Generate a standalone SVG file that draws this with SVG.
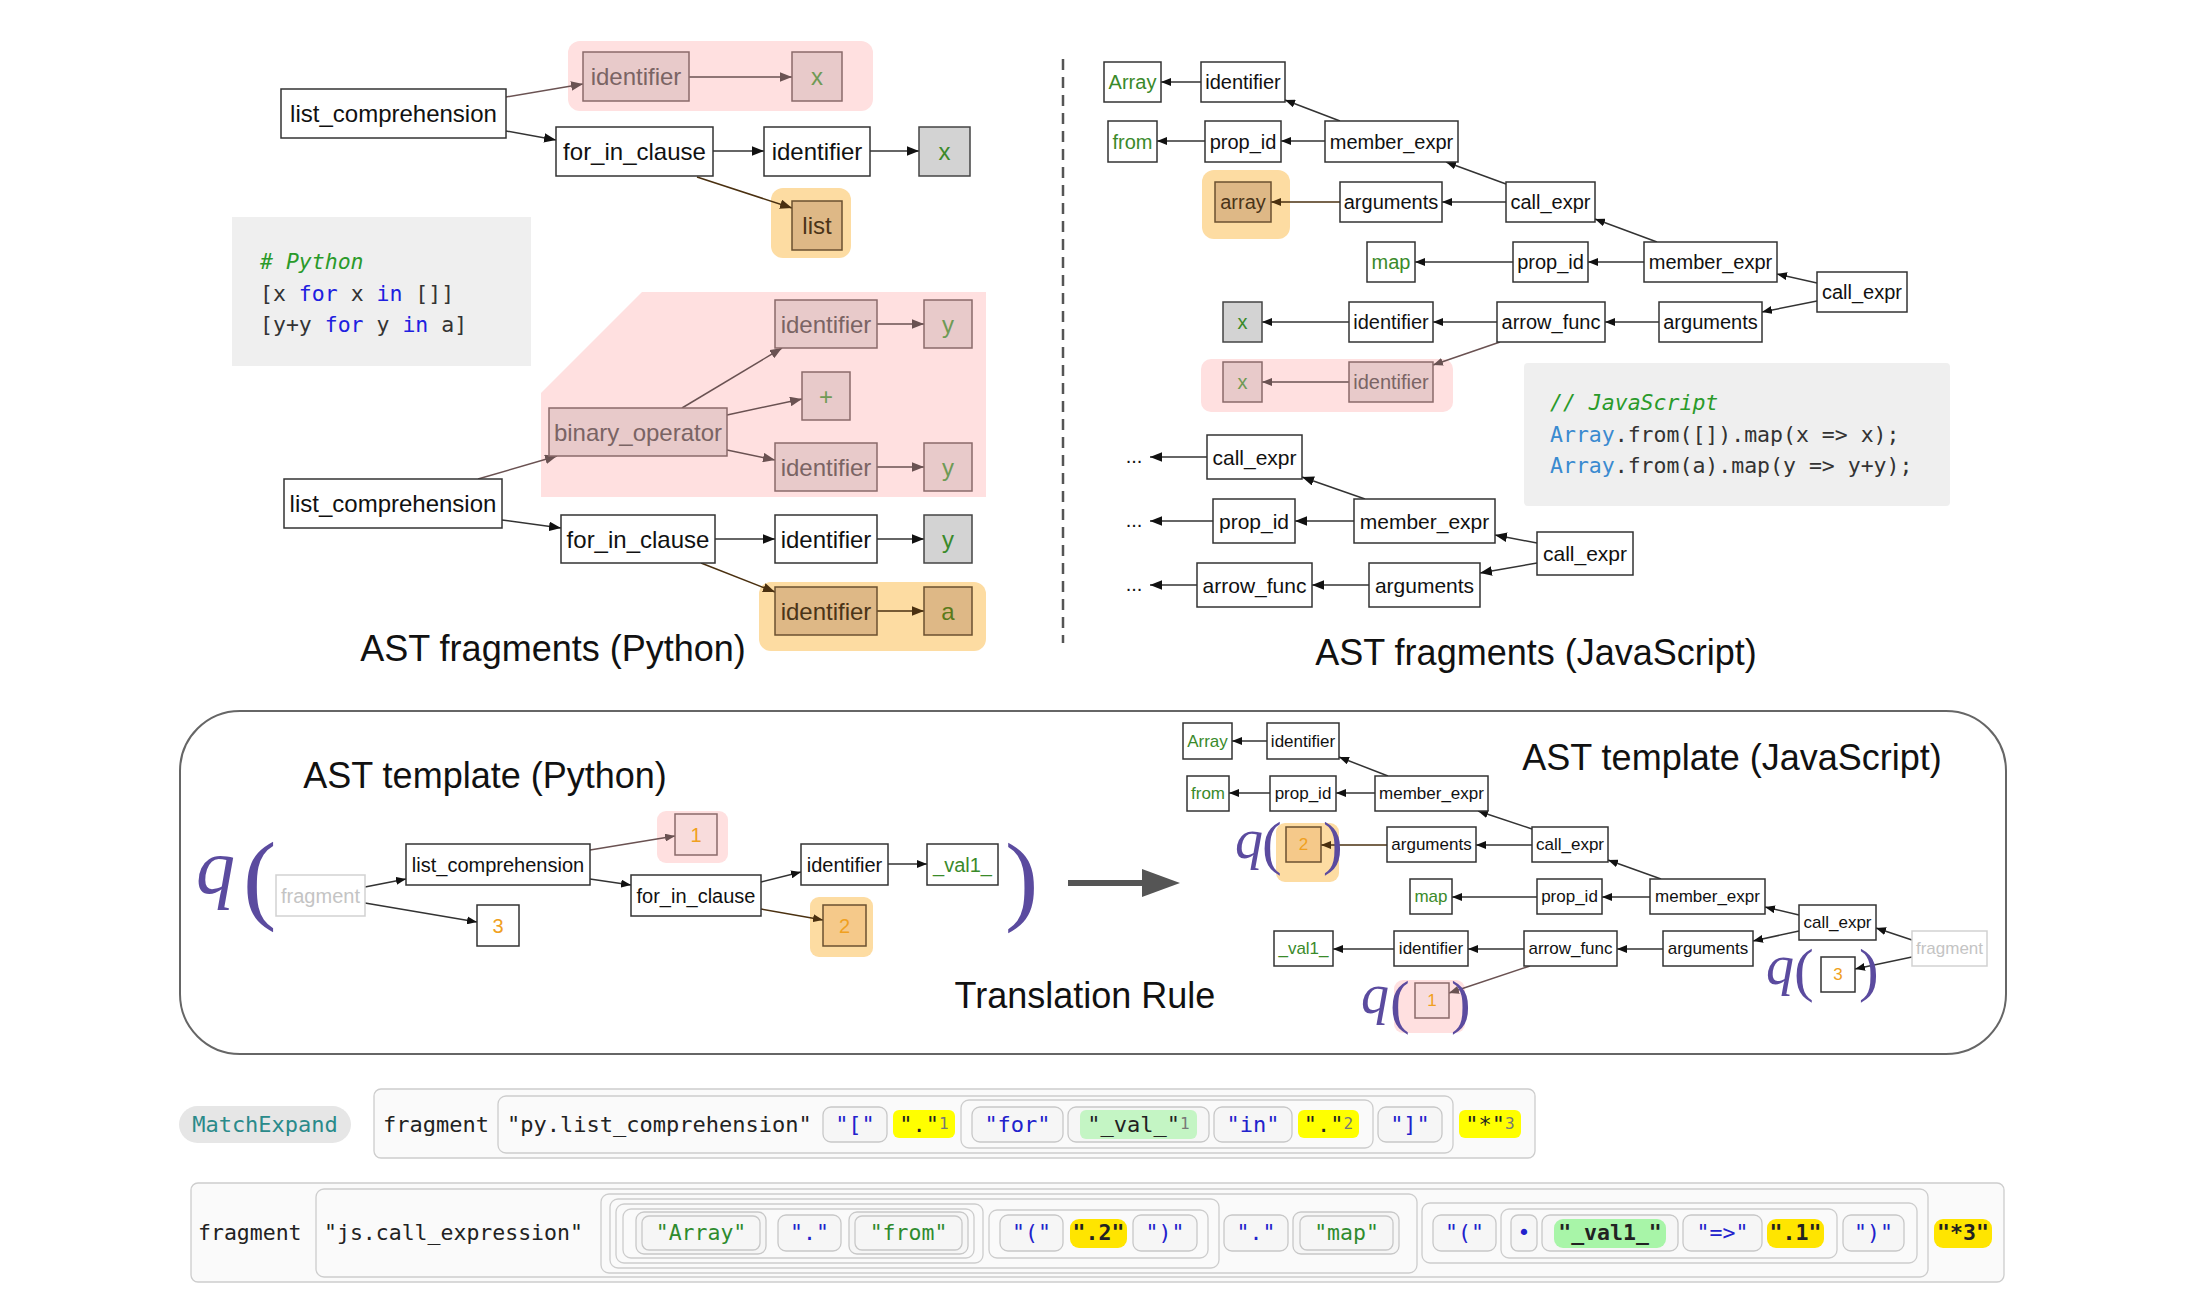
<svg xmlns="http://www.w3.org/2000/svg" width="2190" height="1294" viewBox="0 0 2190 1294">
<style>
.n{fill:#fff;stroke:#333;stroke-width:1.5}
.np{fill:#e8caca;stroke:#8a6a6a;stroke-width:1.5}
.no{fill:#deb886;stroke:#6b5030;stroke-width:1.5}
.ng{fill:#d3d3d3;stroke:#444;stroke-width:1.5}
.nf{fill:#fff;stroke:#d2d2d2;stroke-width:1.5}
.hp{fill:#ffe0e0}
.ho{fill:#fddca2}
.t{font-family:"Liberation Sans",Arial,sans-serif;text-anchor:middle;dominant-baseline:central;fill:#111}
.f24{font-size:24px}.f20{font-size:20px}.f21{font-size:21px}.f17{font-size:17px}
.tg{fill:#3a8a2a}.tp{fill:#7a6464}.tpg{fill:#6f9a55}.to{fill:#4a3418}.tog{fill:#5a7a1a}.tn{fill:#f0a020}.tf{fill:#c4c4c4}
.e{fill:none;stroke:#333;stroke-width:1.5}
.ep{fill:none;stroke:#6a5252;stroke-width:1.5}
.eo{fill:none;stroke:#4a3010;stroke-width:1.5}
.title{font-family:"Liberation Sans",Arial,sans-serif;font-size:36px;text-anchor:middle;fill:#111}
.code{font-family:"DejaVu Sans Mono","Liberation Mono",monospace;font-size:21.5px;fill:#333}
.cm{fill:#2a9a2a;font-style:italic}.kw{fill:#2020e0}.kb{fill:#3a8ad0}
.q{font-family:"Liberation Serif","Times New Roman",serif;fill:#5b4b9f}
.m{font-family:"DejaVu Sans Mono","Liberation Mono",monospace;fill:#222}
.r1{font-size:22px}.r2{font-size:21.5px}
.bx{fill:#f6f6f6;stroke:#c8c8c8;stroke-width:1.3}
.gb{fill:#fafafa;stroke:#cdcdcd;stroke-width:1.3}
.bl{fill:#2222cc}.gr{fill:#2e8b2e}.sup{fill:#777;font-size:16px}
.y1{fill:#ffff00}.y2{fill:#ffe500}.gf{fill:#b8f5b8}
</style>
<defs>
<marker id="mk" viewBox="0 0 10 8" refX="10" refY="4" markerWidth="12" markerHeight="9.6" orient="auto" markerUnits="userSpaceOnUse"><path d="M0,0L10,4L0,8z" fill="#111"/></marker>
<marker id="mp" viewBox="0 0 10 8" refX="10" refY="4" markerWidth="12" markerHeight="9.6" orient="auto" markerUnits="userSpaceOnUse"><path d="M0,0L10,4L0,8z" fill="#6a5252"/></marker>
<marker id="mo" viewBox="0 0 10 8" refX="10" refY="4" markerWidth="12" markerHeight="9.6" orient="auto" markerUnits="userSpaceOnUse"><path d="M0,0L10,4L0,8z" fill="#4a3010"/></marker>
<marker id="ms" viewBox="0 0 10 8" refX="10" refY="4" markerWidth="10" markerHeight="8" orient="auto" markerUnits="userSpaceOnUse"><path d="M0,0L10,4L0,8z" fill="#111"/></marker>
<marker id="msp" viewBox="0 0 10 8" refX="10" refY="4" markerWidth="10" markerHeight="8" orient="auto" markerUnits="userSpaceOnUse"><path d="M0,0L10,4L0,8z" fill="#6a5252"/></marker>
<marker id="mso" viewBox="0 0 10 8" refX="10" refY="4" markerWidth="10" markerHeight="8" orient="auto" markerUnits="userSpaceOnUse"><path d="M0,0L10,4L0,8z" fill="#4a3010"/></marker>
</defs>
<rect width="2190" height="1294" fill="#fff"/>

<!-- highlights -->
<g id="highlights">
<rect class="hp" x="568" y="41" width="305" height="70" rx="12"/>
<rect class="ho" x="771" y="188" width="80" height="70" rx="12"/>
<path class="hp" d="M541,393 L642,292 L986,292 L986,497 L541,497 Z"/>
<rect class="ho" x="759" y="582" width="227" height="69" rx="12"/>
<rect class="ho" x="1202" y="170" width="88" height="69" rx="12"/>
<rect class="hp" x="1201" y="359" width="252" height="53" rx="10"/>
<rect class="hp" x="657" y="811" width="71" height="52" rx="9"/>
<rect class="ho" x="810" y="897" width="63" height="60" rx="9"/>
<rect class="ho" x="1276" y="823" width="63" height="59" rx="9"/>
<rect class="hp" x="1394" y="980" width="71" height="53" rx="9"/>
</g>

<!-- code boxes -->
<g id="py-code">
<rect x="232" y="217" width="299" height="149" fill="#efefef"/>
<text class="code" x="260" y="269"><tspan class="cm"># Python</tspan></text>
<text class="code" x="260" y="301">[x <tspan class="kw">for</tspan> x <tspan class="kw">in</tspan> []]</text>
<text class="code" x="260" y="332">[y+y <tspan class="kw">for</tspan> y <tspan class="kw">in</tspan> a]</text>
</g>
<g id="js-code">
<rect x="1524" y="363" width="426" height="143" rx="4" fill="#efefef"/>
<text class="code" x="1550" y="410"><tspan class="cm">// JavaScript</tspan></text>
<text class="code" x="1550" y="442"><tspan class="kb">Array</tspan>.from([]).map(x =&gt; x);</text>
<text class="code" x="1550" y="473"><tspan class="kb">Array</tspan>.from(a).map(y =&gt; y+y);</text>
</g>

<line id="divider" x1="1063" y1="59" x2="1063" y2="643" stroke="#555" stroke-width="2.5" stroke-dasharray="11,7"/>

<!-- connectors -->
<g id="connectors">
<path class="ep" d="M506,97 L583,84" marker-end="url(#mp)"/>
<path class="ep" d="M689,77 L792,77" marker-end="url(#mp)"/>
<path class="e" d="M506,131 L556,140" marker-end="url(#mk)"/>
<path class="e" d="M713,151 L764,151" marker-end="url(#mk)"/>
<path class="e" d="M870,151 L919,151" marker-end="url(#mk)"/>
<path class="eo" d="M697,177 L792,208" marker-end="url(#mo)"/>
<path class="ep" d="M478,479 L557,456" marker-end="url(#mp)"/>
<path class="ep" d="M682,408 L782,348" marker-end="url(#mp)"/>
<path class="ep" d="M727,415 L802,399" marker-end="url(#mp)"/>
<path class="ep" d="M727,450 L775,460" marker-end="url(#mp)"/>
<path class="ep" d="M877,324 L924,324" marker-end="url(#mp)"/>
<path class="ep" d="M877,467 L924,467" marker-end="url(#mp)"/>
<path class="e" d="M502,520 L561,528" marker-end="url(#mk)"/>
<path class="e" d="M715,539 L775,539" marker-end="url(#mk)"/>
<path class="e" d="M877,539 L924,539" marker-end="url(#mk)"/>
<path class="eo" d="M701,563 L775,592" marker-end="url(#mo)"/>
<path class="eo" d="M877,611 L924,611" marker-end="url(#mo)"/>
<path class="e" d="M1201,82 L1161,82" marker-end="url(#ms)"/>
<path class="e" d="M1340,121 L1285,100" marker-end="url(#ms)"/>
<path class="e" d="M1325,141 L1281,141" marker-end="url(#ms)"/>
<path class="e" d="M1205,141 L1157,141" marker-end="url(#ms)"/>
<path class="e" d="M1506,184 L1446,162" marker-end="url(#ms)"/>
<path class="e" d="M1506,202 L1442,202" marker-end="url(#ms)"/>
<path class="eo" d="M1340,202 L1271,202" marker-end="url(#mso)"/>
<path class="e" d="M1657,242 L1595,219" marker-end="url(#ms)"/>
<path class="e" d="M1644,262 L1588,262" marker-end="url(#ms)"/>
<path class="e" d="M1513,262 L1415,262" marker-end="url(#ms)"/>
<path class="e" d="M1817,283 L1777,274" marker-end="url(#ms)"/>
<path class="e" d="M1817,301 L1762,312" marker-end="url(#ms)"/>
<path class="e" d="M1659,322 L1605,322" marker-end="url(#ms)"/>
<path class="e" d="M1497,322 L1433,322" marker-end="url(#ms)"/>
<path class="e" d="M1349,322 L1262,322" marker-end="url(#ms)"/>
<path class="ep" d="M1500,342 L1433,365" marker-end="url(#msp)"/>
<path class="ep" d="M1349,382 L1262,382" marker-end="url(#msp)"/>
<path class="e" d="M1207,457 L1150,457" marker-end="url(#mk)"/>
<path class="e" d="M1365,499 L1302,477" marker-end="url(#mk)"/>
<path class="e" d="M1354,521 L1295,521" marker-end="url(#mk)"/>
<path class="e" d="M1213,521 L1150,521" marker-end="url(#mk)"/>
<path class="e" d="M1537,543 L1495,535" marker-end="url(#mk)"/>
<path class="e" d="M1537,563 L1480,573" marker-end="url(#mk)"/>
<path class="e" d="M1369,585 L1312,585" marker-end="url(#mk)"/>
<path class="e" d="M1197,585 L1150,585" marker-end="url(#mk)"/>
<path class="e" d="M365,887 L406,879" marker-end="url(#ms)"/>
<path class="e" d="M365,903 L477,922" marker-end="url(#ms)"/>
<path class="ep" d="M590,850 L675,836" marker-end="url(#msp)"/>
<path class="e" d="M590,879 L631,885" marker-end="url(#ms)"/>
<path class="e" d="M761,882 L801,872" marker-end="url(#ms)"/>
<path class="eo" d="M761,909 L823,920" marker-end="url(#mso)"/>
<path class="e" d="M888,864 L927,864" marker-end="url(#ms)"/>
<path d="M1068,883 L1146,883" stroke="#555" stroke-width="6" fill="none"/>
<path d="M1142,869 L1180,883 L1142,897 Z" fill="#555"/>
<path class="e" d="M1267,741 L1232,741" marker-end="url(#ms)"/>
<path class="e" d="M1388,776 L1339,757" marker-end="url(#ms)"/>
<path class="e" d="M1375,793 L1336,793" marker-end="url(#ms)"/>
<path class="e" d="M1270,793 L1229,793" marker-end="url(#ms)"/>
<path class="e" d="M1532,829 L1478,811" marker-end="url(#ms)"/>
<path class="e" d="M1532,845 L1476,845" marker-end="url(#ms)"/>
<path class="eo" d="M1387,845 L1321,845" marker-end="url(#mso)"/>
<path class="e" d="M1661,879 L1608,860" marker-end="url(#ms)"/>
<path class="e" d="M1650,897 L1602,897" marker-end="url(#ms)"/>
<path class="e" d="M1537,897 L1452,897" marker-end="url(#ms)"/>
<path class="e" d="M1799,915 L1765,907" marker-end="url(#ms)"/>
<path class="e" d="M1799,931 L1753,941" marker-end="url(#ms)"/>
<path class="e" d="M1912,940 L1876,928" marker-end="url(#ms)"/>
<path class="e" d="M1912,957 L1855,969" marker-end="url(#ms)"/>
<path class="e" d="M1663,949 L1617,949" marker-end="url(#ms)"/>
<path class="e" d="M1524,949 L1468,949" marker-end="url(#ms)"/>
<path class="e" d="M1394,949 L1333,949" marker-end="url(#ms)"/>
<path class="ep" d="M1530,966 L1449,993" marker-end="url(#msp)"/>
</g>

<!-- Python fragment 1 nodes -->
<g id="py1-lc"><rect class="n" x="281" y="89" width="225" height="49"/><text class="t f24" x="393.5" y="113.5">list_comprehension</text></g>
<g id="py1-id1"><rect class="np" x="583" y="52" width="106" height="49"/><text class="t f24 tp" x="636" y="76.5">identifier</text></g>
<g id="py1-x1"><rect class="np" x="792" y="52" width="50" height="49"/><text class="t f24 tpg" x="817" y="76.5">x</text></g>
<g id="py1-for"><rect class="n" x="556" y="127" width="157" height="49"/><text class="t f24" x="634.5" y="151.5">for_in_clause</text></g>
<g id="py1-id2"><rect class="n" x="764" y="127" width="106" height="49"/><text class="t f24" x="817" y="151.5">identifier</text></g>
<g id="py1-x2"><rect class="ng" x="919" y="127" width="51" height="49"/><text class="t f24 tg" x="944.5" y="151.5">x</text></g>
<g id="py1-list"><rect class="no" x="792" y="201" width="50" height="49"/><text class="t f24 to" x="817" y="225.5">list</text></g>

<!-- Python fragment 2 nodes -->
<g id="py2-idt"><rect class="np" x="775" y="300" width="102" height="48"/><text class="t f24 tp" x="826" y="324">identifier</text></g>
<g id="py2-yt"><rect class="np" x="924" y="300" width="48" height="48"/><text class="t f24 tpg" x="948" y="324">y</text></g>
<g id="py2-plus"><rect class="np" x="802" y="372" width="48" height="48"/><text class="t f24 tpg" x="826" y="396">+</text></g>
<g id="py2-binop"><rect class="np" x="549" y="408" width="178" height="48"/><text class="t f24 tp" x="638" y="432">binary_operator</text></g>
<g id="py2-idm"><rect class="np" x="775" y="443" width="102" height="48"/><text class="t f24 tp" x="826" y="467">identifier</text></g>
<g id="py2-ym"><rect class="np" x="924" y="443" width="48" height="48"/><text class="t f24 tpg" x="948" y="467">y</text></g>
<g id="py2-lc"><rect class="n" x="284" y="479" width="218" height="49"/><text class="t f24" x="393" y="503.5">list_comprehension</text></g>
<g id="py2-for"><rect class="n" x="561" y="515" width="154" height="48"/><text class="t f24" x="638" y="539">for_in_clause</text></g>
<g id="py2-id"><rect class="n" x="775" y="515" width="102" height="48"/><text class="t f24" x="826" y="539">identifier</text></g>
<g id="py2-y"><rect class="ng" x="924" y="515" width="48" height="48"/><text class="t f24 tg" x="948" y="539">y</text></g>
<g id="py2-ido"><rect class="no" x="775" y="587" width="102" height="48"/><text class="t f24 to" x="826" y="611">identifier</text></g>
<g id="py2-a"><rect class="no" x="924" y="587" width="48" height="48"/><text class="t f24 tog" x="948" y="611">a</text></g>
<text class="title" x="553" y="661">AST fragments (Python)</text>

<!-- JS fragments top -->
<g id="js1-Array"><rect class="n" x="1104" y="62" width="57" height="40"/><text class="t f20 tg" x="1132.5" y="82">Array</text></g>
<g id="js1-id"><rect class="n" x="1201" y="62" width="84" height="40"/><text class="t f20" x="1243" y="82">identifier</text></g>
<g id="js1-from"><rect class="n" x="1108" y="121" width="49" height="41"/><text class="t f20 tg" x="1132.5" y="141.5">from</text></g>
<g id="js1-prop"><rect class="n" x="1205" y="121" width="76" height="41"/><text class="t f20" x="1243" y="141.5">prop_id</text></g>
<g id="js1-mem"><rect class="n" x="1325" y="121" width="133" height="41"/><text class="t f20" x="1391.5" y="141.5">member_expr</text></g>
<g id="js1-array"><rect class="no" x="1215" y="182" width="56" height="40"/><text class="t f20 to" x="1243" y="202">array</text></g>
<g id="js1-args"><rect class="n" x="1340" y="182" width="102" height="40"/><text class="t f20" x="1391" y="202">arguments</text></g>
<g id="js1-call"><rect class="n" x="1506" y="182" width="89" height="40"/><text class="t f20" x="1550.5" y="202">call_expr</text></g>
<g id="js1-map"><rect class="n" x="1367" y="242" width="48" height="40"/><text class="t f20 tg" x="1391" y="262">map</text></g>
<g id="js1-prop2"><rect class="n" x="1513" y="242" width="75" height="40"/><text class="t f20" x="1550.5" y="262">prop_id</text></g>
<g id="js1-mem2"><rect class="n" x="1644" y="242" width="133" height="40"/><text class="t f20" x="1710.5" y="262">member_expr</text></g>
<g id="js1-call2"><rect class="n" x="1817" y="272" width="90" height="40"/><text class="t f20" x="1862" y="292">call_expr</text></g>
<g id="js1-x"><rect class="ng" x="1223" y="302" width="39" height="40"/><text class="t f20 tg" x="1242.5" y="322">x</text></g>
<g id="js1-id2"><rect class="n" x="1349" y="302" width="84" height="40"/><text class="t f20" x="1391" y="322">identifier</text></g>
<g id="js1-arrow"><rect class="n" x="1497" y="302" width="108" height="40"/><text class="t f20" x="1551" y="322">arrow_func</text></g>
<g id="js1-args2"><rect class="n" x="1659" y="302" width="103" height="40"/><text class="t f20" x="1710.5" y="322">arguments</text></g>
<g id="js1-xp"><rect class="np" x="1223" y="362" width="39" height="40"/><text class="t f20 tpg" x="1242.5" y="382">x</text></g>
<g id="js1-idp"><rect class="np" x="1349" y="362" width="84" height="40"/><text class="t f20 tp" x="1391" y="382">identifier</text></g>

<!-- JS fragments bottom -->
<g id="js2-call"><rect class="n" x="1207" y="435" width="95" height="44"/><text class="t f21" x="1254.5" y="457">call_expr</text></g>
<g id="js2-prop"><rect class="n" x="1213" y="499" width="82" height="44"/><text class="t f21" x="1254" y="521">prop_id</text></g>
<g id="js2-mem"><rect class="n" x="1354" y="499" width="141" height="44"/><text class="t f21" x="1424.5" y="521">member_expr</text></g>
<g id="js2-call2"><rect class="n" x="1537" y="532" width="96" height="43"/><text class="t f21" x="1585" y="553.5">call_expr</text></g>
<g id="js2-arrow"><rect class="n" x="1197" y="563" width="115" height="44"/><text class="t f21" x="1254.5" y="585">arrow_func</text></g>
<g id="js2-args"><rect class="n" x="1369" y="563" width="111" height="44"/><text class="t f21" x="1424.5" y="585">arguments</text></g>
<g id="js2-dots">
<text class="t f20" x="1134" y="457" style="dominant-baseline:auto" dy="6">...</text>
<text class="t f20" x="1134" y="521" style="dominant-baseline:auto" dy="6">...</text>
<text class="t f20" x="1134" y="585" style="dominant-baseline:auto" dy="6">...</text>
</g>
<text class="title" x="1536" y="665">AST fragments (JavaScript)</text>

<!-- Template box -->
<rect id="template-frame" x="180" y="711" width="1826" height="343" rx="60" fill="none" stroke="#666" stroke-width="2"/>
<text class="title" x="485" y="788">AST template (Python)</text>
<text class="title" x="1732" y="770">AST template (JavaScript)</text>
<text class="title" x="1085" y="1008">Translation Rule</text>

<!-- Python template -->
<g id="pt-q"><text class="q" x="196" y="893" font-size="78" font-style="italic">q</text><text class="q" x="243" y="911" font-size="100">(</text><text class="q" x="1005" y="912" font-size="100">)</text></g>
<g id="pt-frag"><rect class="nf" x="276" y="875" width="89" height="41"/><text class="t f20 tf" x="320.5" y="895.5">fragment</text></g>
<g id="pt-lc"><rect class="n" x="406" y="844" width="184" height="41"/><text class="t f20" x="498" y="864.5">list_comprehension</text></g>
<g id="pt-1"><rect class="np" x="675" y="814" width="42" height="41" style="fill:#f8dcdc"/><text class="t f20 tn" x="696" y="834.5">1</text></g>
<g id="pt-3"><rect class="n" x="477" y="905" width="42" height="41"/><text class="t f20 tn" x="498" y="925.5">3</text></g>
<g id="pt-for"><rect class="n" x="631" y="875" width="130" height="41"/><text class="t f20" x="696" y="895.5">for_in_clause</text></g>
<g id="pt-id"><rect class="n" x="801" y="844" width="87" height="41"/><text class="t f20" x="844.5" y="864.5">identifier</text></g>
<g id="pt-val"><rect class="n" x="927" y="844" width="71" height="41"/><text class="t f20 tg" x="962.5" y="864.5">_val1_</text></g>
<g id="pt-2"><rect class="no" x="823" y="905" width="43" height="41" style="fill:#f5c98a"/><text class="t f20 tn" x="844.5" y="925.5">2</text></g>

<!-- JS template -->
<g id="jt-Array"><rect class="n" x="1183" y="723" width="49" height="36"/><text class="t f17 tg" x="1207.5" y="741">Array</text></g>
<g id="jt-id"><rect class="n" x="1267" y="723" width="72" height="36"/><text class="t f17" x="1303" y="741">identifier</text></g>
<g id="jt-from"><rect class="n" x="1187" y="776" width="42" height="35"/><text class="t f17 tg" x="1208" y="793.5">from</text></g>
<g id="jt-prop"><rect class="n" x="1270" y="776" width="66" height="35"/><text class="t f17" x="1303" y="793.5">prop_id</text></g>
<g id="jt-mem"><rect class="n" x="1375" y="776" width="113" height="35"/><text class="t f17" x="1431.5" y="793.5">member_expr</text></g>
<g id="jt-q2"><text class="q" x="1235" y="858" font-size="56" font-style="italic">q</text><text class="q" x="1262" y="863" font-size="59">(</text><rect class="no" x="1286" y="827" width="35" height="35" style="fill:#f5c98a"/><text class="t f17 tn" x="1303.5" y="844.5">2</text><text class="q" x="1323" y="863" font-size="59">)</text></g>
<g id="jt-args"><rect class="n" x="1387" y="827" width="89" height="35"/><text class="t f17" x="1431.5" y="844.5">arguments</text></g>
<g id="jt-call"><rect class="n" x="1532" y="827" width="76" height="35"/><text class="t f17" x="1570" y="844.5">call_expr</text></g>
<g id="jt-map"><rect class="n" x="1410" y="879" width="42" height="35"/><text class="t f17 tg" x="1431" y="896.5">map</text></g>
<g id="jt-prop2"><rect class="n" x="1537" y="879" width="65" height="35"/><text class="t f17" x="1569.5" y="896.5">prop_id</text></g>
<g id="jt-mem2"><rect class="n" x="1650" y="879" width="115" height="35"/><text class="t f17" x="1707.5" y="896.5">member_expr</text></g>
<g id="jt-call2"><rect class="n" x="1799" y="905" width="77" height="35"/><text class="t f17" x="1837.5" y="922.5">call_expr</text></g>
<g id="jt-frag"><rect class="nf" x="1912" y="931" width="75" height="35"/><text class="t f17 tf" x="1949.5" y="948.5">fragment</text></g>
<g id="jt-val"><rect class="n" x="1274" y="931" width="59" height="35"/><text class="t f17 tg" x="1303.5" y="948.5">_val1_</text></g>
<g id="jt-id2"><rect class="n" x="1394" y="931" width="74" height="35"/><text class="t f17" x="1431" y="948.5">identifier</text></g>
<g id="jt-arrow"><rect class="n" x="1524" y="931" width="93" height="35"/><text class="t f17" x="1570.5" y="948.5">arrow_func</text></g>
<g id="jt-args2"><rect class="n" x="1663" y="931" width="90" height="35"/><text class="t f17" x="1708" y="948.5">arguments</text></g>
<g id="jt-q1"><text class="q" x="1361" y="1013" font-size="56" font-style="italic">q</text><text class="q" x="1390" y="1022" font-size="59">(</text><rect class="np" x="1415" y="983" width="34" height="35" style="fill:#f8dcdc"/><text class="t f17 tn" x="1432" y="1000.5">1</text><text class="q" x="1451" y="1022" font-size="59">)</text></g>
<g id="jt-q3"><text class="q" x="1766" y="984" font-size="56" font-style="italic">q</text><text class="q" x="1794" y="990" font-size="59">(</text><rect class="n" x="1821" y="957" width="34" height="35"/><text class="t f17 tn" x="1838" y="974.5">3</text><text class="q" x="1859" y="990" font-size="59">)</text></g>

<!-- MatchExpand row -->
<g id="row1">
<rect x="179" y="1106" width="172" height="37" rx="18.5" fill="#e6e6e6"/>
<text class="m r1" x="265" y="1132" text-anchor="middle" style="fill:#2a8a8a">MatchExpand</text>
<rect class="gb" x="374" y="1089" width="1161" height="69" rx="7"/>
<text class="m r1" x="383" y="1132">fragment</text>
<rect class="gb" x="498" y="1096" width="955" height="57" rx="8"/>
<text class="m r1" x="507" y="1132">"py.list_comprehension"</text>
<rect class="bx" x="823" y="1107" width="64" height="35" rx="8"/>
<text class="m r1 bl" x="855" y="1132" text-anchor="middle">"["</text>
<rect class="y1" x="893" y="1110" width="62" height="28" rx="6"/>
<text class="m r1" x="924" y="1132" text-anchor="middle">"."<tspan class="sup" dy="-3">1</tspan></text>
<rect class="gb" x="961" y="1100" width="412" height="48" rx="8"/>
<rect class="bx" x="972" y="1107" width="91" height="35" rx="8"/>
<text class="m r1 bl" x="1017.5" y="1132" text-anchor="middle">"for"</text>
<rect class="bx" x="1068" y="1107" width="141" height="35" rx="8"/>
<rect class="gf" x="1080" y="1110" width="117" height="29" rx="6" style="fill:#c4f5c4"/>
<text class="m r1" x="1138.5" y="1132" text-anchor="middle">"_val_"<tspan class="sup" dy="-3">1</tspan></text>
<rect class="bx" x="1214" y="1107" width="78" height="35" rx="8"/>
<text class="m r1 bl" x="1253" y="1132" text-anchor="middle">"in"</text>
<rect class="y1" x="1298" y="1110" width="61" height="28" rx="6"/>
<text class="m r1" x="1328.5" y="1132" text-anchor="middle">"."<tspan class="sup" dy="-3">2</tspan></text>
<rect class="bx" x="1378" y="1107" width="64" height="35" rx="8"/>
<text class="m r1 bl" x="1410" y="1132" text-anchor="middle">"]"</text>
<rect class="y1" x="1459" y="1110" width="62" height="28" rx="6"/>
<text class="m r1" x="1490" y="1132" text-anchor="middle">"*"<tspan class="sup" dy="-3">3</tspan></text>
</g>

<!-- js.call_expression row -->
<g id="row2">
<rect class="gb" x="191" y="1183" width="1813" height="99" rx="7"/>
<text class="m r2" x="198" y="1240">fragment</text>
<rect class="gb" x="316" y="1189" width="1612" height="88" rx="8"/>
<text class="m r2" x="324" y="1240">"js.call_expression"</text>
<rect class="gb" x="601" y="1194" width="816" height="79" rx="8"/>
<rect class="gb" x="610" y="1199" width="609" height="69" rx="8"/>
<rect class="gb" x="616" y="1204" width="367" height="59" rx="8"/>
<rect class="gb" x="623" y="1209" width="351" height="49" rx="8"/>
<rect class="bx" x="636" y="1212" width="130" height="42" rx="8"/>
<rect class="bx" x="642" y="1216" width="118" height="34" rx="7"/>
<text class="m r2 gr" x="701" y="1240" text-anchor="middle">"Array"</text>
<rect class="bx" x="778" y="1215" width="63" height="36" rx="8"/>
<text class="m r2 bl" x="809.5" y="1240" text-anchor="middle">"."</text>
<rect class="bx" x="849" y="1212" width="119" height="42" rx="8"/>
<rect class="bx" x="855" y="1216" width="107" height="34" rx="7"/>
<text class="m r2 gr" x="908.5" y="1240" text-anchor="middle">"from"</text>
<rect class="gb" x="989" y="1210" width="219" height="48" rx="8"/>
<rect class="bx" x="1000" y="1215" width="63" height="36" rx="8"/>
<text class="m r2 bl" x="1031.5" y="1240" text-anchor="middle">"("</text>
<rect class="y2" x="1070" y="1219" width="57" height="29" rx="9"/>
<text class="m r2" x="1098.5" y="1240" text-anchor="middle" font-weight="bold">".2"</text>
<rect class="bx" x="1133" y="1215" width="64" height="36" rx="8"/>
<text class="m r2 bl" x="1165" y="1240" text-anchor="middle">")"</text>
<rect class="bx" x="1224" y="1215" width="64" height="36" rx="8"/>
<text class="m r2 bl" x="1256" y="1240" text-anchor="middle">"."</text>
<rect class="bx" x="1293" y="1212" width="106" height="42" rx="8"/>
<rect class="bx" x="1300" y="1216" width="93" height="34" rx="7"/>
<text class="m r2 gr" x="1346.5" y="1240" text-anchor="middle">"map"</text>
<rect class="gb" x="1422" y="1203" width="495" height="60" rx="8"/>
<rect class="bx" x="1433" y="1215" width="63" height="36" rx="8"/>
<text class="m r2 bl" x="1464.5" y="1240" text-anchor="middle">"("</text>
<rect class="gb" x="1501" y="1209" width="336" height="49" rx="8"/>
<rect class="bx" x="1511" y="1215" width="26" height="36" rx="7"/>
<text class="m r2 bl" x="1524" y="1240" text-anchor="middle">•</text>
<rect class="bx" x="1542" y="1215" width="136" height="36" rx="8"/>
<rect class="gf" x="1554" y="1219" width="112" height="29" rx="9" style="fill:#a8f5a8"/>
<text class="m r2" x="1610" y="1240" text-anchor="middle" font-weight="bold">"_val1_"</text>
<rect class="bx" x="1683" y="1215" width="79" height="36" rx="8"/>
<text class="m r2 bl" x="1722.5" y="1240" text-anchor="middle">"=&gt;"</text>
<rect class="y2" x="1767" y="1219" width="57" height="29" rx="9"/>
<text class="m r2" x="1795.5" y="1240" text-anchor="middle" font-weight="bold">".1"</text>
<rect class="bx" x="1843" y="1215" width="61" height="36" rx="8"/>
<text class="m r2 bl" x="1873.5" y="1240" text-anchor="middle">")"</text>
<rect class="y2" x="1934" y="1219" width="58" height="29" rx="9"/>
<text class="m r2" x="1963" y="1240" text-anchor="middle" font-weight="bold">"*3"</text>
</g>
</svg>
